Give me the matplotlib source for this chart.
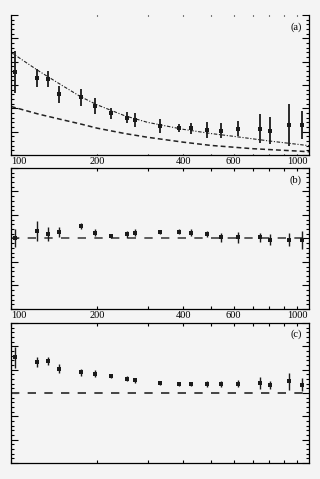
import numpy as np
import matplotlib
matplotlib.use('Agg')
import matplotlib.pyplot as plt
from matplotlib.ticker import MultipleLocator, NullFormatter

plt.rcParams['font.family'] = ['Liberation Serif', 'DejaVu Serif']
plt.rcParams['lines.scale_dashes'] = False

# common x positions of the data points
x = [103, 123, 135, 147, 175, 196, 224, 255, 271, 331, 387, 427, 483, 541, 623, 742, 805, 940, 1041]

# panel (a): measured values and errors
ya = [3.57, 3.29, 3.26, 2.60, 2.47, 2.09, 1.79, 1.60, 1.50, 1.24, 1.16, 1.14, 1.07, 1.04, 1.13, 1.13, 1.04, 1.29, 1.27]
ea = [0.90, 0.39, 0.34, 0.37, 0.37, 0.34, 0.24, 0.24, 0.28, 0.30, 0.19, 0.25, 0.33, 0.32, 0.32, 0.61, 0.57, 0.89, 0.60]

# panel (a): two model curves
xc1 = [100, 125, 150, 175, 200, 250, 300, 400, 500, 600, 800, 1000, 1100]
yc1 = [4.40, 3.60, 3.00, 2.50, 2.15, 1.68, 1.40, 1.10, 0.92, 0.80, 0.60, 0.46, 0.40]
xc2 = [100, 125, 150, 175, 200, 250, 300, 400, 500, 700, 1000, 1100]
yc2 = [2.08, 1.75, 1.52, 1.33, 1.15, 0.92, 0.76, 0.55, 0.41, 0.27, 0.17, 0.14]

# panel (b): ratio
yb = [1.005, 1.063, 1.037, 1.057, 1.108, 1.051, 1.022, 1.037, 1.051, 1.054,
      1.057, 1.051, 1.037, 1.009, 1.009, 1.009, 0.990, 0.990, 0.990]
eb = [0.079, 0.083, 0.057, 0.045, 0.028, 0.027, 0.019, 0.030, 0.030, 0.020,
      0.020, 0.030, 0.025, 0.040, 0.047, 0.036, 0.044, 0.054, 0.076]

# panel (c): ratio
yc = [1.305, 1.266, 1.274, 1.208, 1.177, 1.165, 1.146, 1.123, 1.108, 1.086,
      1.077, 1.077, 1.077, 1.077, 1.080, 1.086, 1.071, 1.100, 1.071]
ec = [0.090, 0.039, 0.037, 0.040, 0.030, 0.031, 0.020, 0.023, 0.021, 0.020,
      0.021, 0.021, 0.029, 0.029, 0.030, 0.054, 0.034, 0.071, 0.054]

xticks = [100, 200, 400, 600, 1000]
xminor = [300, 500, 700, 800, 900]

bg = '#f4f4f4'
fig = plt.figure(figsize=(3.2, 4.79), dpi=100, facecolor=bg)
axa = fig.add_axes([0.0344, 0.6764, 0.9312, 0.2923])
axb = fig.add_axes([0.0344, 0.3549, 0.9312, 0.2944])
axc = fig.add_axes([0.0344, 0.0334, 0.9312, 0.2923])


def style(ax, ylim, major, minor, labels):
    ax.set_facecolor(bg)
    ax.set_xscale('log')
    ax.set_xlim(100, 1100)
    ax.set_ylim(*ylim)
    ax.set_xticks(xticks)
    ax.set_xticks(xminor, minor=True)
    ax.xaxis.set_minor_formatter(NullFormatter())
    if labels:
        ax.set_xticklabels([str(v) for v in xticks])
        ax.get_xticklabels()[0].set_ha('left')
    else:
        ax.set_xticklabels([])
    ax.yaxis.set_major_locator(MultipleLocator(major))
    ax.yaxis.set_minor_locator(MultipleLocator(minor))
    ax.set_yticklabels([])
    ax.tick_params(which='both', direction='in', top=True, right=True,
                   width=0.8, labelsize=7.5, pad=1.5)
    ax.tick_params(axis='y', which='major', length=5)
    ax.tick_params(axis='y', which='minor', length=2.5)
    ax.tick_params(axis='x', which='both', length=2.5)
    for s in ax.spines.values():
        s.set_linewidth(0.9)


style(axa, (0, 6), 1, 0.2, True)
style(axb, (0.4, 1.6), 0.2, 0.04, True)
style(axc, (0.4, 1.6), 0.2, 0.04, False)
axa.spines['top'].set_visible(False)
axa.tick_params(axis='x', which='both', top=True, length=1)

pts = dict(fmt='s', color='#1a1a1a', ms=2.6, mew=0, capsize=0)

# (a)
axa.plot(xc1, yc1, color='#222222', lw=0.8, dashes=[2.5, 1.2, 0.8, 1.2])
axa.plot(xc2, yc2, color='#222222', lw=1.1, dashes=[3.5, 2.2])
axa.errorbar(x, ya, yerr=ea, elinewidth=1.3, **pts)
axa.text(0.975, 0.914, '(a)', transform=axa.transAxes, ha='right', va='center', fontsize=7.5)

# (b)
axb.axhline(1.0, color='#333333', lw=1.1, dashes=[6, 6])
axb.errorbar(x, yb, yerr=eb, elinewidth=1.0, **pts)
axb.text(0.975, 0.91, '(b)', transform=axb.transAxes, ha='right', va='center', fontsize=7.5)

# (c)
axc.axhline(1.0, color='#444444', lw=1.4, dashes=[6, 6])
axc.errorbar(x, yc, yerr=ec, elinewidth=1.0, **pts)
axc.text(0.975, 0.92, '(c)', transform=axc.transAxes, ha='right', va='center', fontsize=7.5)

fig.savefig('out.png', dpi=100, facecolor=bg)
